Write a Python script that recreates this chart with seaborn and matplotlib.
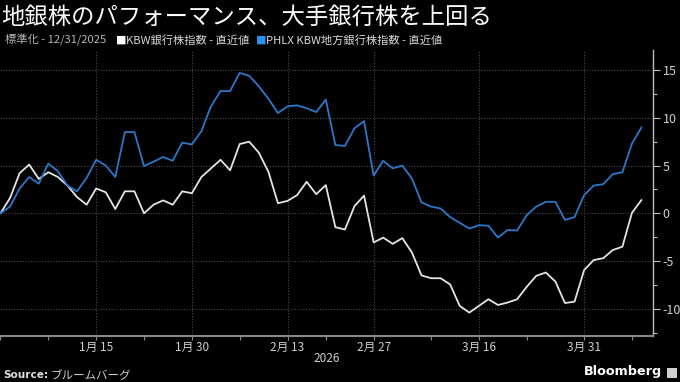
import numpy as np
import pandas as pd
import matplotlib
matplotlib.use("Agg")
import matplotlib.pyplot as plt
import matplotlib.ticker as mticker
import seaborn as sns

# ---- data (normalized, % change since 12/31/2025), one value per trading day ----
kbw_bank = [0, 1.6, 4.2, 5.1, 3.6, 4.3, 3.8, 2.9, 1.7, 0.9,
            2.6, 2.2, 0.45, 2.3, 2.3, 0.0, 0.9, 1.35, 0.9, 2.3,
            2.1, 3.8, 4.7, 5.6, 4.5, 7.25, 7.5, 6.35, 4.35, 1.05,
            1.3, 1.9, 3.3, 2.0, 2.95, -1.45, -1.7, 0.75, 1.85, -3.05,
            -2.55, -3.2, -2.6, -4.1, -6.5, -6.8, -6.8, -7.45, -9.7, -10.4,
            -9.7, -9.0, -9.6, -9.35, -9.0, -7.7, -6.55, -6.2, -7.15, -9.4,
            -9.25, -5.95, -4.9, -4.7, -3.85, -3.5, 0.05, 1.4]
kbw_regional = [0, 0.7, 2.6, 3.8, 3.1, 5.2, 4.4, 2.9, 2.3, 3.7,
                5.6, 5.0, 3.8, 8.5, 8.5, 4.95, 5.4, 5.9, 5.5, 7.4,
                7.2, 8.6, 11.2, 12.8, 12.8, 14.7, 14.4, 13.3, 12.0, 10.5,
                11.2, 11.3, 11.0, 10.6, 11.9, 7.15, 7.05, 8.9, 9.65, 3.95,
                5.5, 4.7, 5.0, 3.65, 1.15, 0.7, 0.5, -0.4, -1.0, -1.6,
                -1.25, -1.3, -2.55, -1.75, -1.8, -0.2, 0.7, 1.2, 1.2, -0.7,
                -0.4, 1.9, 2.9, 3.05, 4.1, 4.3, 7.3, 9.0]
series_names = ["KBW銀行株指数 - 直近値", "PHLX KBW地方銀行株指数 - 直近値"]
tick_days = [10, 20, 30, 39, 50, 61]
tick_labels = ["1月 15", "1月 30", "2月 13", "2月 27", "3月 16", "3月 31"]
minor_days = [0, 5, 15, 25, 34, 45, 55, 66]
y_ticks = [-10, -5, 0, 5, 10, 15]

title = "地銀株のパフォーマンス、大手銀行株を上回る"
subtitle = "標準化 - 12/31/2025"
year_label = "2026"

days = np.arange(len(kbw_bank))
df = pd.DataFrame({
    "day": np.concatenate([days, days]),
    "value": kbw_bank + kbw_regional,
    "series": [series_names[0]] * len(days) + [series_names[1]] * len(days),
})

# ---- style ----
sns.set_theme(style="dark")
plt.rcParams["font.family"] = ["Noto Sans CJK JP", "DejaVu Sans"]
plt.rcParams["axes.unicode_minus"] = False

BG = "#000000"
WHITE_LINE = "#e4e4e4"
BLUE_LINE = "#2b78c8"
GRID = "#4a4a4a"
TXT = "#cfcfcf"

fig = plt.figure(figsize=(6.8, 3.82), dpi=100, facecolor=BG)
ax = fig.add_axes([0.0, 1 - 336 / 382, 653 / 680, (336 - 50) / 382])
ax.set_facecolor(BG)

sns.lineplot(data=df, x="day", y="value", hue="series",
             palette={series_names[0]: WHITE_LINE, series_names[1]: BLUE_LINE},
             linewidth=1.3, legend=False, ax=ax)

ax.set_xlim(-0.05, 68.2)
ax.set_ylim(-12.85, 17.1)

# y axis on right
ax.yaxis.tick_right()
ax.set_yticks(y_ticks)
ax.set_yticklabels([str(v) for v in y_ticks])
ax.yaxis.set_minor_locator(mticker.MultipleLocator(2.5))
ax.tick_params(axis="y", which="major", direction="out", length=5, width=0.8,
               colors="#bdbdbd", labelcolor=TXT, labelsize=9, pad=2,
               left=False, right=True)
ax.tick_params(axis="y", which="minor", direction="out", length=3, width=0.8,
               colors="#bdbdbd", left=False, right=True)

ax.set_xticks(tick_days)
ax.set_xticklabels(tick_labels)
ax.xaxis.set_minor_locator(mticker.FixedLocator(minor_days))
ax.tick_params(axis="x", which="major", direction="out", length=3, width=0.8,
               colors="#8a8a8a", labelcolor=TXT, labelsize=8.5, pad=0.5, bottom=True)
ax.tick_params(axis="x", which="minor", direction="out", length=3, width=0.8,
               colors="#8a8a8a", bottom=True)

ax.set_xlabel("")
ax.set_ylabel("")

ax.grid(True, which="major", axis="both", color=GRID, linestyle=(0, (1, 1.5)), linewidth=0.8)
ax.set_axisbelow(True)

for side in ["top", "left"]:
    ax.spines[side].set_visible(False)
ax.spines["bottom"].set_visible(True)
ax.spines["bottom"].set_color("#8a8a8a")
ax.spines["bottom"].set_linewidth(1.5)
ax.spines["right"].set_visible(True)
ax.spines["right"].set_color("#bdbdbd")
ax.spines["right"].set_linewidth(1.0)

# year label under axis
fig.text(327 / 680, 1 - 358 / 382, year_label, color=TXT, fontsize=8.5,
         ha="center", va="center")

# ---- header ----
fig.text(1 / 680, 1 - 17 / 382, title, color="#ffffff", fontsize=16.8,
         ha="left", va="center")
fig.text(5 / 680, 1 - 40 / 382, subtitle, color="#b5b5b5", fontsize=8.1,
         ha="left", va="center")
fig.text(116 / 680, 1 - 40 / 382, "■", color="#ffffff", fontsize=8,
         ha="left", va="center", family=["DejaVu Sans"])
fig.text(126 / 680, 1 - 40 / 382, series_names[0], color="#d9d9d9", fontsize=8.1,
         ha="left", va="center")
fig.text(256 / 680, 1 - 40 / 382, "■", color="#2f8ef0", fontsize=8,
         ha="left", va="center", family=["DejaVu Sans"])
fig.text(266 / 680, 1 - 40 / 382, series_names[1], color="#d9d9d9", fontsize=8.1,
         ha="left", va="center")

# ---- footer ----
fig.text(3 / 680, 1 - 375 / 382, "Source:", color="#e0e0e0", fontsize=7.6,
         fontweight="bold", ha="left", va="center", family=["DejaVu Sans"])
fig.text(51 / 680, 1 - 375 / 382, "ブルームバーグ", color="#d0d0d0", fontsize=8.3,
         ha="left", va="center")
fig.text(662 / 680, 1 - 372 / 382, "Bloomberg", color="#ffffff", fontsize=9.2,
         fontweight="bold", ha="right", va="center", family=["DejaVu Sans"])
fig.patches.append(plt.Rectangle((667 / 680, 1 - 378 / 382), 10 / 680, 10 / 382,
                                 transform=fig.transFigure, facecolor="#d0d0d0",
                                 edgecolor="none"))

fig.savefig("out.png", dpi=100, facecolor=BG)
